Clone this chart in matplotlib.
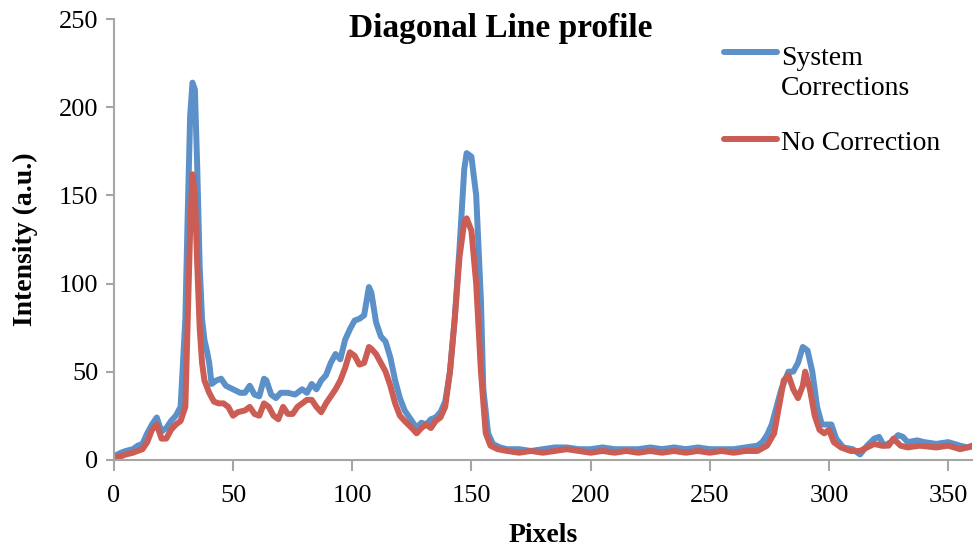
import matplotlib
matplotlib.use("Agg")
import matplotlib.pyplot as plt
from matplotlib.lines import Line2D

# Profile samples (pixel index, intensity)
sys_x = [0, 3, 5, 8, 10, 12, 14, 16, 18, 20, 22, 24, 26, 28, 30, 31, 32, 33, 34, 35, 36, 37, 38, 39, 40,
         41, 43, 45, 47, 50, 53, 55, 57, 59, 61, 63, 64, 66, 68, 70, 73, 76, 79, 81, 83, 85, 87, 89, 91,
         93, 95, 97, 99, 101, 103, 105, 107, 108, 110, 112, 114, 116, 118, 120, 122, 125, 127, 129, 131,
         133, 135, 137, 139, 141, 143, 145, 147, 148, 150, 152, 154, 155, 157, 159, 162, 165, 170, 175,
         180, 185, 190, 195, 200, 205, 210, 215, 220, 225, 230, 235, 240, 245, 250, 255, 260, 265, 270,
         272, 274, 276, 278, 280, 283, 285, 287, 289, 291, 293, 295, 297, 299, 301, 303, 306, 310, 313,
         316, 319, 321, 323, 326, 329, 331, 333, 337, 340, 345, 350, 355, 358, 362]
sys_y = [2, 4, 5, 6, 8, 9, 15, 20, 24, 16, 18, 22, 25, 30, 80, 140, 195, 214, 210, 165, 110, 80, 68, 62, 55,
         43, 45, 46, 42, 40, 38, 38, 42, 37, 36, 46, 45, 37, 35, 38, 38, 37, 40, 38, 43, 40, 45, 48, 55,
         60, 57, 68, 74, 79, 80, 82, 98, 95, 78, 70, 67, 58, 45, 35, 28, 22, 18, 21, 20,
         23, 24, 27, 33, 50, 80, 120, 165, 174, 172, 150, 90, 40, 15, 9, 7, 6, 6, 5,
         6, 7, 7, 6, 6, 7, 6, 6, 6, 7, 6, 7, 6, 7, 6, 6, 6, 7, 8,
         10, 14, 20, 30, 40, 50, 50, 55, 64, 62, 50, 30, 20, 20, 20, 12, 7, 6, 3,
         8, 12, 13, 8, 10, 14, 13, 10, 11, 10, 9, 10, 8, 7, 8]

raw_x = [0, 3, 5, 8, 10, 12, 14, 16, 18, 20, 22, 24, 26, 28, 30, 31, 32, 33, 34, 35, 36, 37, 38, 40, 42,
         44, 46, 48, 50, 52, 55, 57, 59, 61, 63, 65, 67, 69, 71, 73, 75, 77, 79, 81, 83, 85, 87, 89, 91,
         93, 95, 97, 99, 101, 103, 105, 107, 108, 110, 112, 114, 116, 118, 120, 122, 125, 127, 129, 131,
         133, 135, 137, 139, 141, 143, 145, 147, 148, 150, 152, 154, 156, 158, 161, 165, 170, 175, 180,
         185, 190, 195, 200, 205, 210, 215, 220, 225, 230, 235, 240, 245, 250, 255, 260, 265, 270, 274,
         277, 279, 281, 283, 285, 287, 289, 290, 292, 294, 296, 298, 300, 302, 305, 309, 313, 316, 319,
         322, 325, 327, 330, 333, 338, 345, 350, 355, 358, 362]
raw_y = [1, 2, 3, 4, 5, 6, 10, 17, 20, 12, 12, 17, 20, 22, 30, 80, 130, 162, 150, 110, 75, 55, 45, 38, 33,
         32, 32, 30, 25, 27, 28, 30, 26, 25, 32, 30, 25, 23, 30, 26, 26, 30, 32, 34, 34, 30, 27, 32, 36,
         40, 45, 52, 61, 59, 54, 55, 64, 63, 60, 55, 50, 42, 32, 25, 22, 18, 15, 18, 20,
         18, 22, 24, 30, 50, 80, 115, 135, 137, 130, 100, 50, 15, 8, 6, 5, 4, 5, 4,
         5, 6, 5, 4, 5, 4, 5, 4, 5, 4, 5, 4, 5, 4, 5, 4, 5, 5, 8,
         15, 30, 45, 48, 40, 35, 42, 50, 40, 25, 17, 15, 17, 10, 7, 5, 5, 7, 9,
         8, 8, 12, 8, 7, 8, 7, 8, 6, 7, 9]

series_names = ["System\nCorrections", "No Correction"]

blue = "#5B90C8"
red = "#CB5D55"
serif = ["Liberation Serif", "DejaVu Serif"]

fig = plt.figure(figsize=(9.73, 5.48), dpi=100)
ax = fig.add_axes([0.117, 0.161, 0.882, 0.804])

ax.plot(sys_x, sys_y, color=blue, lw=4.3, solid_joinstyle="round", solid_capstyle="round")
ax.plot(raw_x, raw_y, color=red, lw=4.3, solid_joinstyle="round", solid_capstyle="round")

ax.set_xlim(0, 360)
ax.set_ylim(0, 250)
ax.set_xticks(range(0, 351, 50))
ax.set_yticks(range(0, 251, 50))

for side in ["top", "right"]:
    ax.spines[side].set_visible(False)
for side in ["left", "bottom"]:
    ax.spines[side].set_color("#A6A6A6")
    ax.spines[side].set_linewidth(1.5)
ax.tick_params(axis="both", colors="#A6A6A6", width=1.5, labelcolor="black", labelsize=19)
ax.tick_params(axis="x", length=8, pad=10)
ax.tick_params(axis="y", length=6, pad=5)
for lbl in ax.get_xticklabels() + ax.get_yticklabels():
    lbl.set_family(serif)

ax.set_xlabel("Pixels", family=serif, fontsize=20, fontweight="bold", labelpad=12)
ax.set_ylabel("Intensity (a.u.)", family=serif, fontsize=20, fontweight="bold", labelpad=15)
fig.text(0.515, 0.948, "Diagonal Line profile", family=serif, fontsize=24, fontweight="bold",
         ha="center", va="center")

# legend drawn by hand so the swatch sits next to the first text line, like the original
leg_rows = [(series_names[0], blue, 1 - 52 / 548, 1 - 57 / 548),
            (series_names[1], red, 1 - 139 / 548, 1 - 142 / 548)]
for name, col, line_y, text_y in leg_rows:
    fig.add_artist(Line2D([724 / 973, 777 / 973], [line_y, line_y], color=col, lw=4.3,
                          solid_capstyle="round", transform=fig.transFigure))
    fig.text(781 / 973, text_y + 0.02, name, family=serif, fontsize=20, ha="left", va="top",
             linespacing=1.25)

fig.savefig("out.png", dpi=100)
